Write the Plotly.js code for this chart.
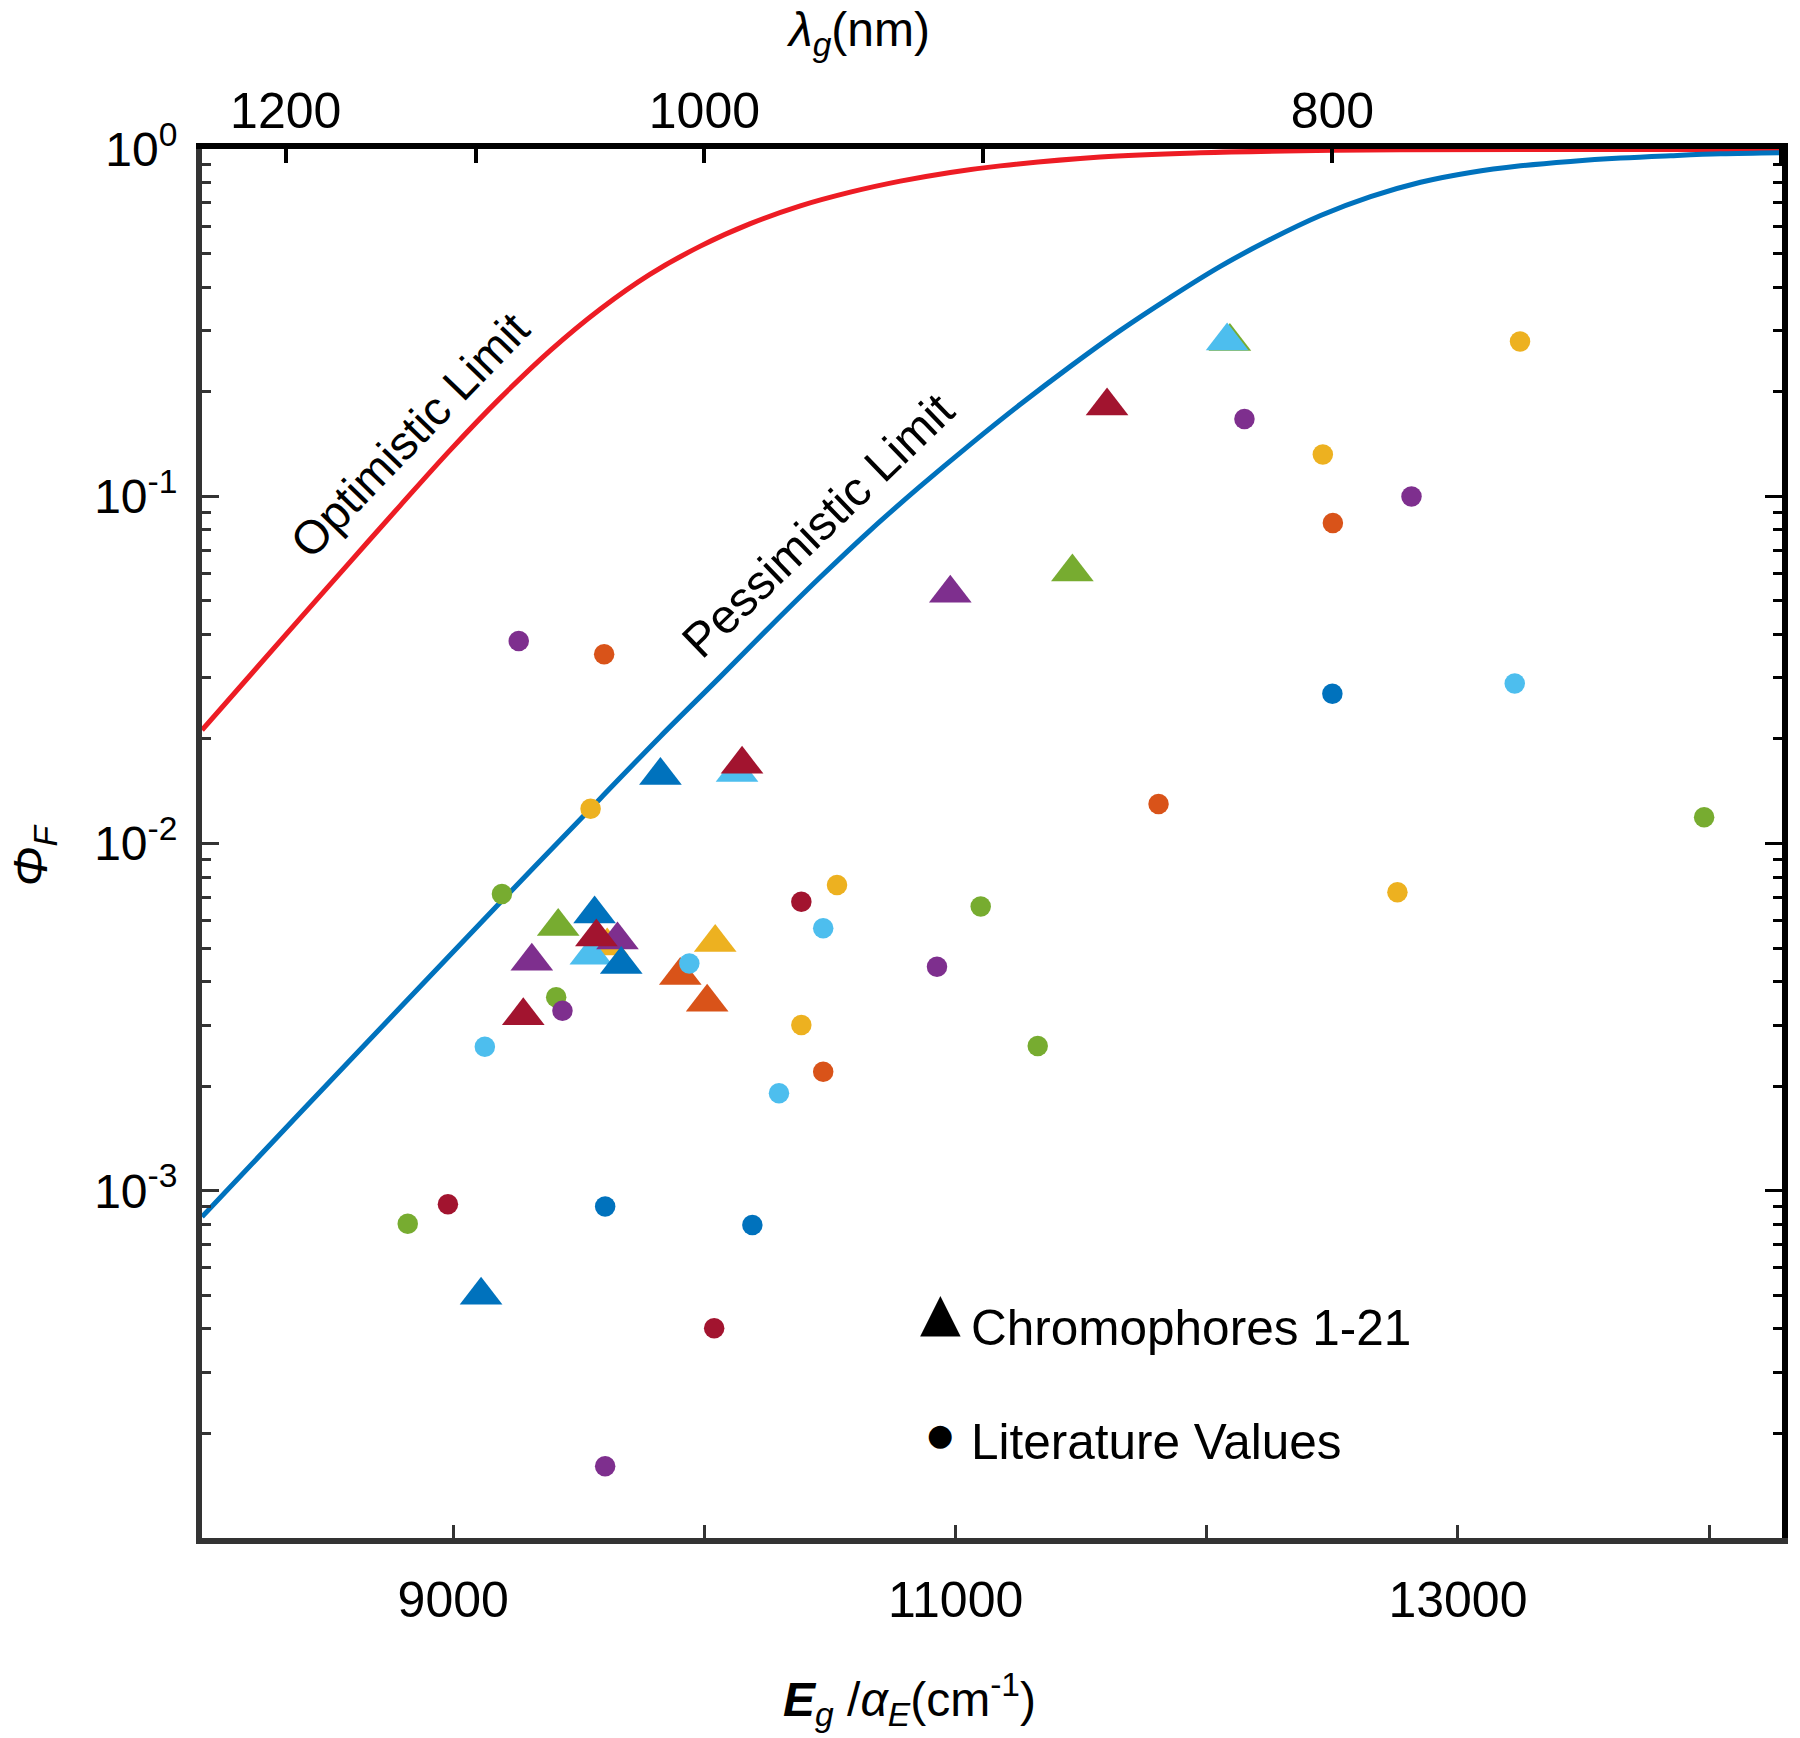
<!DOCTYPE html>
<html>
<head>
<meta charset="utf-8">
<script src="https://cdn.plot.ly/plotly-3.0.1.min.js"></script>
<style>
  html, body { margin: 0; padding: 0; background: #fff; }
  #chart { width: 1800px; height: 1738px; }
</style>
</head>
<body>
<div id="chart"></div>
<script>
// ---- Data ----
// Energy axis values in cm^-1, quantum yields Phi_F
const chromX = [9111, 9279, 9313, 9418, 9613, 9548, 9563, 9654, 9570, 9669, 9825, 9904, 10011, 10043, 10130, 10150, 10979, 11465, 11603, 12092, 12081];
const chromY = [5.0e-4, 3.19e-3, 4.58e-3, 5.77e-3, 5.07e-3, 4.77e-3, 6.27e-3, 5.27e-3, 5.38e-3, 4.48e-3, 1.57e-2, 4.17e-3, 3.49e-3, 5.19e-3, 1.60e-2, 1.69e-2, 5.26e-2, 6.05e-2, 0.182, 0.279, 0.280];
const chromGroup = ['blue', 'darkred', 'purple', 'green', 'yellow', 'lightblue', 'blue', 'purple', 'darkred', 'blue', 'blue', 'orange', 'orange', 'yellow', 'lightblue', 'darkred', 'purple', 'green', 'darkred', 'green', 'lightblue'];

const litX = [9261, 9601, 9547, 9194, 9940, 9410, 9435, 9126, 11808, 10528, 10386, 11100, 10473, 10926, 10386, 11327, 10473, 10297, 13247, 12150, 12462, 12815, 12502, 12500, 13226, 13980, 12759, 8979, 8819, 9605, 10191, 10039, 9605];
const litY = [3.83e-2, 3.51e-2, 1.26e-2, 7.15e-3, 4.51e-3, 3.61e-3, 3.30e-3, 2.60e-3, 1.30e-2, 7.59e-3, 6.80e-3, 6.59e-3, 5.70e-3, 4.42e-3, 3.00e-3, 2.61e-3, 2.20e-3, 1.91e-3, 0.279, 0.167, 0.132, 0.0998, 0.0838, 2.70e-2, 2.89e-2, 1.19e-2, 7.24e-3, 9.14e-4, 8.03e-4, 9.01e-4, 7.97e-4, 4.02e-4, 1.61e-4];
const litGroup = ['purple', 'orange', 'yellow', 'green', 'lightblue', 'green', 'purple', 'lightblue', 'orange', 'yellow', 'darkred', 'green', 'lightblue', 'purple', 'yellow', 'green', 'orange', 'lightblue', 'yellow', 'purple', 'yellow', 'purple', 'orange', 'blue', 'lightblue', 'green', 'yellow', 'darkred', 'green', 'blue', 'blue', 'darkred', 'purple'];

// Limit curves
const optimisticX = [8000, 8191, 8390, 8589, 8789, 8988, 9187, 9386, 9585, 9783, 9984, 10183, 10382, 10581, 10780, 10979, 11178, 11576, 11975, 12373, 12771, 13568, 14290];
const optimisticY = [0.02121, 0.03047, 0.04445, 0.06463, 0.09402, 0.1358, 0.1917, 0.2627, 0.3457, 0.4356, 0.5252, 0.6095, 0.6858, 0.7510, 0.8079, 0.8561, 0.8941, 0.9490, 0.9757, 0.9888, 0.9947, 0.9967, 0.9973];

const pessimisticX = [8000, 8390, 8789, 9187, 9585, 9824, 10063, 10262, 10461, 10660, 10860, 11059, 11258, 11457, 11656, 11855, 12054, 12254, 12453, 12652, 12851, 13050, 13249, 13448, 13648, 13847, 14046, 14290];
const pessimisticY = [8.41e-4, 1.674e-3, 3.37e-3, 6.76e-3, 1.346e-2, 2.031e-2, 3.019e-2, 4.219e-2, 5.844e-2, 7.98e-2, 0.1069, 0.1411, 0.1840, 0.2366, 0.3004, 0.3740, 0.4592, 0.5494, 0.6432, 0.7291, 0.8021, 0.8560, 0.8944, 0.9209, 0.9413, 0.9560, 0.9682, 0.9750];

// Tick labels
const bottomTickVals = [9000, 11000, 13000];
const bottomTickText = ['9000', '11000', '13000'];
const bottomMinorVals = [10000, 12000, 14000];
const topTickNm = [1200, 1000, 800];
const topTickText = ['1200', '1000', '800'];
const topMinorNm = [1100, 900, 700];
const yDecades = [-3, -2, -1, 0];
const yTickText = ['10<sup>-3</sup>', '10<sup>-2</sup>', '10<sup>-1</sup>', '10<sup>0</sup>'];

// ---- Styles ----
const palette = {
  blue: '#0072BD', orange: '#D95319', yellow: '#EDB120', purple: '#7E2F8E',
  green: '#77AC30', lightblue: '#4DBEEE', darkred: '#A2142F'
};
const FONT = 'Liberation Sans, Arial, Helvetica, sans-serif';
const xRange = [8000, 14290];
const yRange = [-4, 0];

const yMajor = yDecades.map(d => Math.pow(10, d));
const yMinor = [];
[-4, -3, -2, -1].forEach(d => { for (let m = 2; m <= 9; m++) yMinor.push(m * Math.pow(10, d)); });
const topTickVals = topTickNm.map(nm => 1e7 / nm);
const topMinorVals = topMinorNm.map(nm => 1e7 / nm);

const traces = [
  { x: optimisticX, y: optimisticY, type: 'scatter', mode: 'lines', line: { color: '#ED1C24', width: 5, shape: 'spline', smoothing: 1, simplify: false }, showlegend: false, hoverinfo: 'skip' },
  { x: pessimisticX, y: pessimisticY, type: 'scatter', mode: 'lines', line: { color: '#0072BD', width: 5, shape: 'spline', smoothing: 1, simplify: false }, showlegend: false, hoverinfo: 'skip' },
  { x: chromX, y: chromY, type: 'scatter', mode: 'markers', name: 'Chromophores 1-21',
    marker: { symbol: 'triangle-up', size: 37, color: chromGroup.map(g => palette[g]), line: { width: 0 } }, showlegend: false },
  { x: litX, y: litY, xaxis: 'x2', yaxis: 'y2', type: 'scatter', mode: 'markers', name: 'Literature Values',
    marker: { symbol: 'circle', size: 20.5, color: litGroup.map(g => palette[g]), line: { width: 0 } }, showlegend: false }
];

const layout = {
  width: 1800, height: 1738,
  margin: { l: 202, r: 18, t: 149, b: 200, pad: 0 },
  paper_bgcolor: '#fff', plot_bgcolor: '#fff',
  font: { family: FONT, size: 48, color: '#000' },
  showlegend: false,
  xaxis: {
    type: 'linear', range: xRange, showgrid: false, zeroline: false,
    showline: true, linecolor: '#333333', linewidth: 6, mirror: false,
    ticks: 'inside', ticklen: 13, tickwidth: 3, tickcolor: '#333333',
    tickmode: 'array', tickvals: bottomTickVals, ticktext: bottomTickText,
    tickfont: { family: FONT, size: 50, color: '#000' }, ticklabelstandoff: 13,
    minor: { tickmode: 'array', tickvals: bottomMinorVals, ticks: 'inside', ticklen: 13, tickwidth: 3, tickcolor: '#333333', showgrid: false }
  },
  xaxis2: {
    type: 'linear', range: xRange, overlaying: 'x', anchor: 'y2', side: 'top', showgrid: false, zeroline: false,
    showline: true, linecolor: '#000', linewidth: 6,
    ticks: 'inside', ticklen: 14, tickwidth: 4, tickcolor: '#000',
    tickmode: 'array', tickvals: topTickVals, ticktext: topTickText,
    tickfont: { family: FONT, size: 50, color: '#000' }, ticklabelstandoff: -5,
    minor: { tickmode: 'array', tickvals: topMinorVals, ticks: 'inside', ticklen: 14, tickwidth: 4, tickcolor: '#000', showgrid: false }
  },
  yaxis: {
    type: 'log', range: yRange, showgrid: false, zeroline: false,
    showline: true, linecolor: '#333333', linewidth: 6, mirror: false,
    ticks: 'inside', ticklen: 17, tickwidth: 3, tickcolor: '#333333',
    tickmode: 'array', tickvals: yMajor, ticktext: yTickText,
    tickfont: { family: FONT, size: 48, color: '#000' }, ticklabelstandoff: 9,
    minor: { tickmode: 'array', tickvals: yMinor, ticks: 'inside', ticklen: 9, tickwidth: 3, tickcolor: '#333333', showgrid: false }
  },
  yaxis2: {
    type: 'log', range: yRange, overlaying: 'y', anchor: 'x2', side: 'right', showgrid: false, zeroline: false,
    showline: true, linecolor: '#000', linewidth: 6,
    ticks: 'inside', ticklen: 17, tickwidth: 3, tickcolor: '#000',
    tickmode: 'array', tickvals: yMajor, showticklabels: false,
    minor: { tickmode: 'array', tickvals: yMinor, ticks: 'inside', ticklen: 9, tickwidth: 3, tickcolor: '#000', showgrid: false }
  },
  annotations: [
    { xref: 'paper', yref: 'paper', x: 0.415, y: 1.0835, xanchor: 'center', yanchor: 'middle', showarrow: false,
      text: '<i>λ</i><sub><i>g</i></sub>(nm)', font: { family: FONT, size: 48, color: '#000' } },
    { xref: 'paper', yref: 'paper', x: 0.448, y: -0.1166, xanchor: 'center', yanchor: 'middle', showarrow: false,
      text: '<b><i>E</i></b><sub><i>g</i></sub> /<i>α</i><sub><i>E</i></sub>(cm<sup>-1</sup>)', font: { family: FONT, size: 48, color: '#000' } },
    { xref: 'paper', yref: 'paper', x: -0.1066, y: 0.4917, xanchor: 'center', yanchor: 'middle', showarrow: false, textangle: -90,
      text: '<i>Φ</i><sub><i>F</i></sub>', font: { family: FONT, size: 48, color: '#000' } },
    { xref: 'paper', yref: 'paper', x: 0.1316, y: 0.7945, xanchor: 'center', yanchor: 'middle', showarrow: false, textangle: -46,
      text: 'Optimistic Limit', font: { family: FONT, size: 47, color: '#000' } },
    { xref: 'paper', yref: 'paper', x: 0.3899, y: 0.7286, xanchor: 'center', yanchor: 'middle', showarrow: false, textangle: -44,
      text: 'Pessimistic Limit', font: { family: FONT, size: 48, color: '#000' } },
    { xref: 'paper', yref: 'paper', x: 0.4671, y: 0.1633, xanchor: 'center', yanchor: 'middle', showarrow: false,
      text: '▲', font: { family: 'DejaVu Sans', size: 53, color: '#000' } },
    { xref: 'paper', yref: 'paper', x: 0.4854, y: 0.1519, xanchor: 'left', yanchor: 'middle', showarrow: false,
      text: 'Chromophores 1-21', font: { family: FONT, size: 49.5, color: '#000' } },
    { xref: 'paper', yref: 'paper', x: 0.4671, y: 0.0745, xanchor: 'center', yanchor: 'middle', showarrow: false,
      text: '●', font: { family: 'DejaVu Sans', size: 30, color: '#000' } },
    { xref: 'paper', yref: 'paper', x: 0.4854, y: 0.0698, xanchor: 'left', yanchor: 'middle', showarrow: false,
      text: 'Literature Values', font: { family: FONT, size: 49.5, color: '#000' } }
  ]
};

Plotly.newPlot('chart', traces, layout, { staticPlot: true, displayModeBar: false });
</script>
</body>
</html>
